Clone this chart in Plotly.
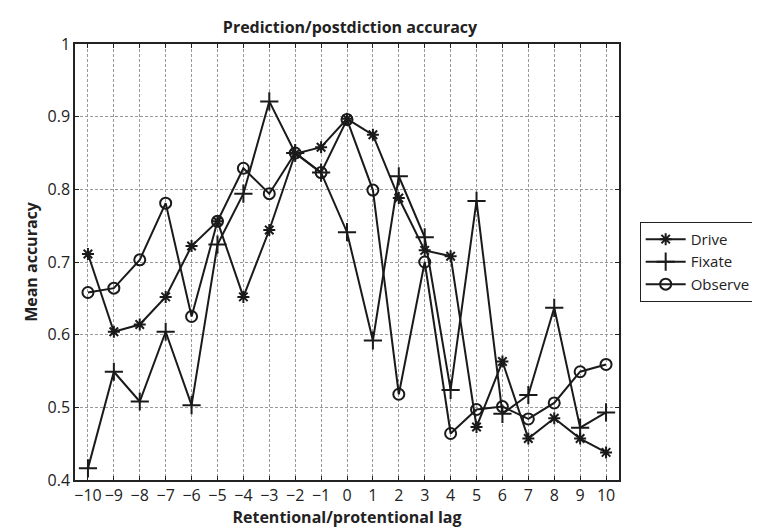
import plotly.graph_objects as go

lags = list(range(-10, 11))
drive = [0.711, 0.604, 0.614, 0.652, 0.722, 0.756, 0.652, 0.744, 0.849, 0.858, 0.897,
         0.875, 0.788, 0.716, 0.708, 0.473, 0.563, 0.457, 0.485, 0.457, 0.438]
fixate = [0.416, 0.549, 0.508, 0.604, 0.503, 0.724, 0.794, 0.921, 0.850, 0.823, 0.741,
          0.592, 0.818, 0.734, 0.524, 0.784, 0.491, 0.517, 0.637, 0.472, 0.493]
observe = [0.658, 0.664, 0.703, 0.781, 0.625, 0.756, 0.829, 0.794, 0.850, 0.823, 0.896,
           0.799, 0.518, 0.700, 0.464, 0.497, 0.501, 0.484, 0.506, 0.549, 0.559]
y_ticks = [0.4, 0.5, 0.6, 0.7, 0.8, 0.9, 1]
y_tick_text = ["0.4", "0.5", "0.6", "0.7", "0.8", "0.9", "1"]

FONT = "Open Sans"
INK = "#1a1a1a"
fig = go.Figure()
series = [("Drive", drive, "asterisk-open", 10),
          ("Fixate", fixate, "cross-thin-open", 13),
          ("Observe", observe, "circle-open", 11)]
for name, vals, sym, sz in series:
    fig.add_trace(go.Scatter(
        x=lags, y=vals, name=name, mode="lines+markers",
        line=dict(color=INK, width=2),
        marker=dict(symbol=sym, size=sz, color=INK,
                    line=dict(color=INK, width=2)),
    ))

axis_common = dict(showline=True, linecolor="#222", linewidth=1.5, mirror="ticks",
                   showgrid=True, gridcolor="#999999", griddash="3px,2px", gridwidth=1,
                   ticks="inside", ticklen=4, tickcolor="#222", zeroline=False,
                   tickangle=0, automargin=False,
                   tickfont=dict(family=FONT, size=16, color="#222"))

fig.update_layout(
    width=760, height=527,
    paper_bgcolor="white", plot_bgcolor="white",
    margin=dict(l=67, r=143, t=36, b=55),
    title=dict(text="<b>Prediction/postdiction accuracy</b>", x=0.45, xanchor="center",
               y=0.964, yanchor="middle", font=dict(family=FONT, size=16, color="#222")),
    xaxis=dict(range=[-10.5, 10.5], tickmode="array", tickvals=lags,
               title=dict(text="<b>Retentional/protentional lag</b>", standoff=6,
                          font=dict(family=FONT, size=16, color="#222")),
               **axis_common),
    yaxis=dict(range=[0.4, 1.0], tickmode="array", tickvals=y_ticks, ticktext=y_tick_text,
               title=dict(text="<b>Mean accuracy</b>", standoff=6,
                          font=dict(family=FONT, size=16, color="#222")),
               **axis_common),
    legend=dict(x=1.038, y=0.592, xanchor="left", yanchor="top",
                bordercolor="#222", borderwidth=1, bgcolor="white",
                font=dict(family=FONT, size=15, color="#222"),
                tracegroupgap=0, itemwidth=40),
    showlegend=True,
)

fig.write_html("out.html")
